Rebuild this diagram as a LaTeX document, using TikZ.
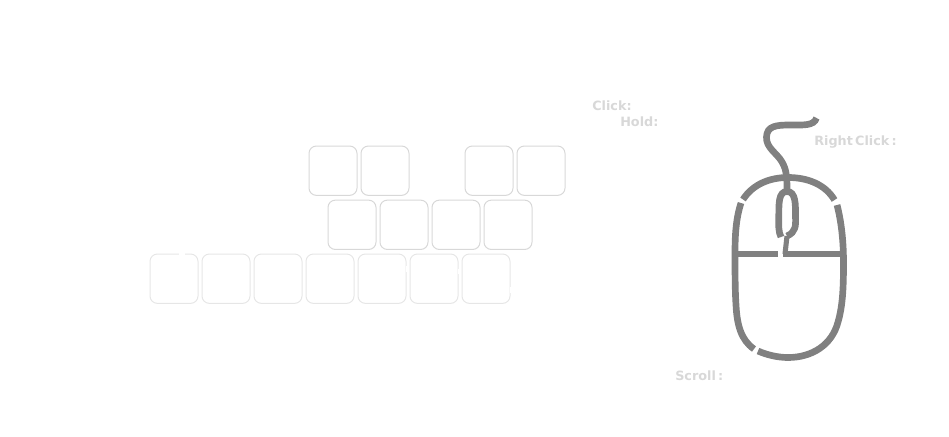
\documentclass[tikz,border=0pt]{standalone}
\usepackage{fontspec}
\setsansfont[WordSpace=.5]{DejaVu Sans}
\usetikzlibrary{%
    positioning
}
\definecolor{keyedge}{HTML}{D8D8D8}
\definecolor{keyfaint}{HTML}{E6E6E6}
\definecolor{hinttext}{HTML}{D8D8D8}
\definecolor{mousegray}{HTML}{808080}

\begin{document}
\begin{tikzpicture}[x=.75pt, y=-.75pt,
    node distance=2.25pt,
    key/.style={draw=keyedge, line width=.75pt, rounded corners=5.5pt, minimum width=36pt, minimum height=37pt, inner sep=0pt},
    faintkey/.style={key, draw=keyfaint},
    hint/.style={text=hinttext, font=\sffamily\bfseries\fontsize{9.6}{11}\selectfont, inner sep=0pt, anchor=base west},
    body/.style={draw=mousegray, line width=5pt},
    thin body/.style={draw=mousegray, line width=3.8pt}]
      \useasboundingbox (0,0) rectangle (949,436);

      \node[key] (k_11) at (333,170.7) {};
      \node[key, right=of k_11] (k_12) {};
      \node[key] (k_13) at (489,170.7) {};
      \node[key, right=of k_13] (k_14) {};

      \node[key] (k_21) at (352,224.8) {};
      \node[key, right=of k_21] (k_22) {};
      \node[key, right=of k_22] (k_23) {};
      \node[key, right=of k_23] (k_24) {};

      \node[faintkey] (k_31) at (174,278.7) {};
      \node[faintkey, right=of k_31] (k_32) {};
      \node[faintkey, right=of k_32] (k_33) {};
      \node[faintkey, right=of k_33] (k_34) {};
      \node[faintkey, right=of k_34] (k_35) {};
      \node[faintkey, right=of k_35] (k_36) {};
      \node[faintkey, right=of k_36] (k_37) {};

      % small breaks in the last row
      \draw[white, line width=1pt] (179,254) -- (185,254);
      \draw[white, line width=1pt] (458.5,269) -- (458.5,274);
      \draw[white, line width=1pt] (510.5,287) -- (510.5,293);
      \draw[white, line width=1pt] (407,266) -- (407,272);

      \node[hint] (click) at (592,110) {Click:};
      \node[hint] (hold) at (620,126) {Hold:};
      \node[hint] (right) at (814,145) {Right Click :};
      \node[hint] (scroll) at (675,380) {Scroll :};

      % mouse
      \draw[body] (743,199.5) .. controls (753,184) and (770,177.5) .. (788,177.5)
        .. controls (807,177.5) and (825,184) .. (834.5,200);
      \draw[body] (837,205) .. controls (841,220) and (843.5,240) .. (843.5,262)
        .. controls (843.5,285) and (843,305) .. (838,322)
        .. controls (832,345) and (812,357.5) .. (788,357.5)
        .. controls (778,357.5) and (767,355) .. (758,351);
      \draw[body] (754,349) .. controls (741,340) and (737,325) .. (736,305)
        .. controls (735,290) and (735,270) .. (735,253)
        .. controls (735,235) and (736,218) .. (741,203);

      % wheel
      \draw[body] (781,237) .. controls (778.5,232) and (778.5,226) .. (778.8,216)
        .. controls (779,205) and (778,191.5) .. (787,191.5)
        .. controls (796,191.5) and (795.5,205) .. (795.5,216)
        .. controls (795.8,226) and (796,232) .. (787,236);
      % cable
      \draw[body] (816.5,118) .. controls (814,126) and (803,125) .. (790,125)
        .. controls (776,125) and (767,126) .. (766.5,137)
        .. controls (766,148) and (777,153) .. (782,162)
        .. controls (787,170) and (787,180) .. (787,191.5);
      % cross line
      \draw[thin body] (787,236) -- (785,254);
      \draw[thin body] (735,254) -- (778,254);
      \draw[thin body] (783,254) -- (843,254);
\end{tikzpicture}
\end{document}
